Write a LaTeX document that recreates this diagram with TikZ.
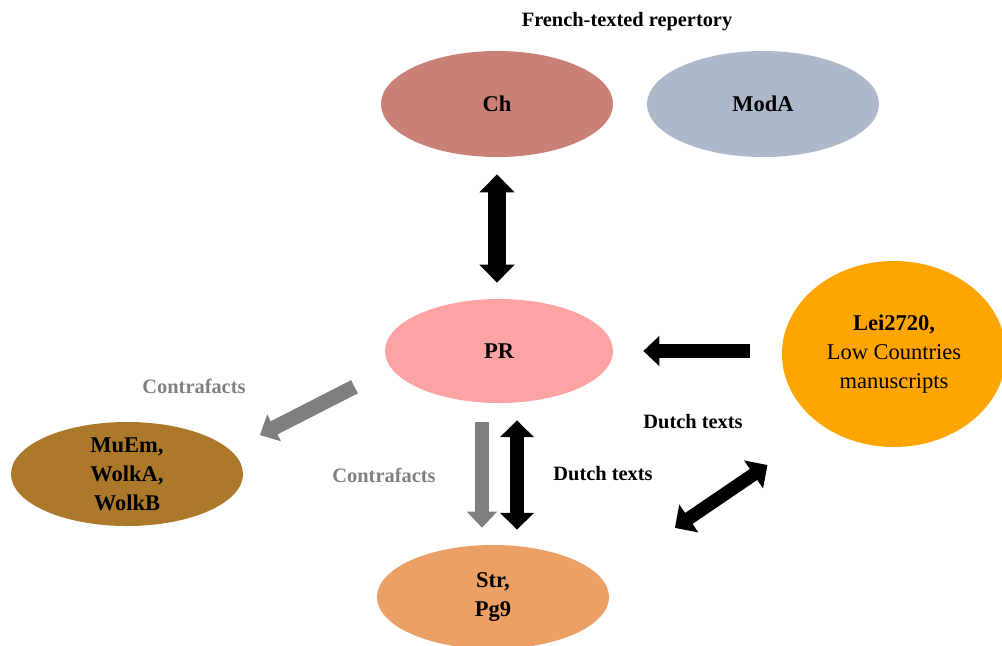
\documentclass[tikz,border=0pt]{standalone}
\usepackage{fontspec}
\setmainfont{Liberation Serif}
\usetikzlibrary{arrows.meta,shapes.geometric}

\definecolor{chred}{RGB}{201,128,119}
\definecolor{modablue}{RGB}{173,185,202}
\definecolor{prpink}{RGB}{254,163,164}
\definecolor{leiorange}{RGB}{255,165,0}
\definecolor{muembrown}{RGB}{172,120,42}
\definecolor{strpeach}{RGB}{235,160,102}
\definecolor{contragray}{RGB}{127,127,127}

\begin{document}
\begin{tikzpicture}
[x=0.025cm,y=-0.025cm]
\tikzstyle{blob}=[ellipse,inner sep=0,align=center,font=\fontsize{16}{20.5}\selectfont\bfseries]
\tikzstyle{note}=[font=\fontsize{14.5}{17}\selectfont\bfseries]
\tikzstyle{fat}=[line width=0.35cm,-{Triangle[width=0.73cm,length=0.4cm]}]
\tikzstyle{fat2}=[line width=0.33cm,{Triangle[width=0.82cm,length=0.42cm]}-{Triangle[width=0.82cm,length=0.42cm]}]

\useasboundingbox (0,0) rectangle (1002,646);
\clip (0,0) rectangle (1002,646);

\node(ch)[blob,fill=chred,minimum width=5.8cm,minimum height=2.65cm] at (497,104){Ch};
\node(moda)[blob,fill=modablue,minimum width=5.8cm,minimum height=2.65cm] at (763,104){ModA};
\node(pr)[blob,fill=prpink,minimum width=5.7cm,minimum height=2.6cm] at (499,351){PR};
\node(lei)[blob,fill=leiorange,minimum width=5.6cm,minimum height=4.65cm,font=\fontsize{16}{20.5}\selectfont] at (894,354){\textbf{Lei2720,}\\Low Countries\\manuscripts};
\node(muem)[blob,fill=muembrown,minimum width=5.8cm,minimum height=2.6cm] at (127,474){MuEm,\\WolkA,\\WolkB};
\node(str)[blob,fill=strpeach,minimum width=5.8cm,minimum height=2.6cm] at (493,597){Str,\\Pg9};

\node(head)[note] at (627,22){French-texted repertory};
\node(contra1)[note,text=contragray] at (194,386){Contrafacts};
\node(contra2)[note,text=contragray] at (384,475){Contrafacts};
\node(dutch1)[note] at (693,422){Dutch texts};
\node(dutch2)[note] at (603,474){Dutch texts};

\coordinate(gtop) at ([xshift=-0.425cm]pr.south);
\coordinate(btop) at ([xshift=0.45cm]pr.south);

\draw[fat2,line width=0.45cm,{Triangle[width=0.85cm,length=0.45cm]}-{Triangle[width=0.85cm,length=0.45cm]},shorten <=0.425cm,shorten >=0.4cm]
  (ch.south) -- (ch.south |- pr.north);
\draw[fat,shorten <=0.8cm,shorten >=0.75cm] (pr.east -| lei.west) -- (pr.east);
\draw[fat,contragray,line width=0.37cm,shorten <=1.025cm,shorten >=0.825cm] (pr.189) -- (muem.13);
\draw[fat,contragray,line width=0.33cm,shorten <=0.475cm,shorten >=0.425cm] (gtop) -- (gtop |- str.north);
\draw[fat2,shorten <=0.425cm,shorten >=0.375cm] (btop) -- (btop |- str.north);
\draw[fat2,shorten <=1.7cm,shorten >=2.225cm] (lei.226) -- (str.10);
\end{tikzpicture}
\end{document}
